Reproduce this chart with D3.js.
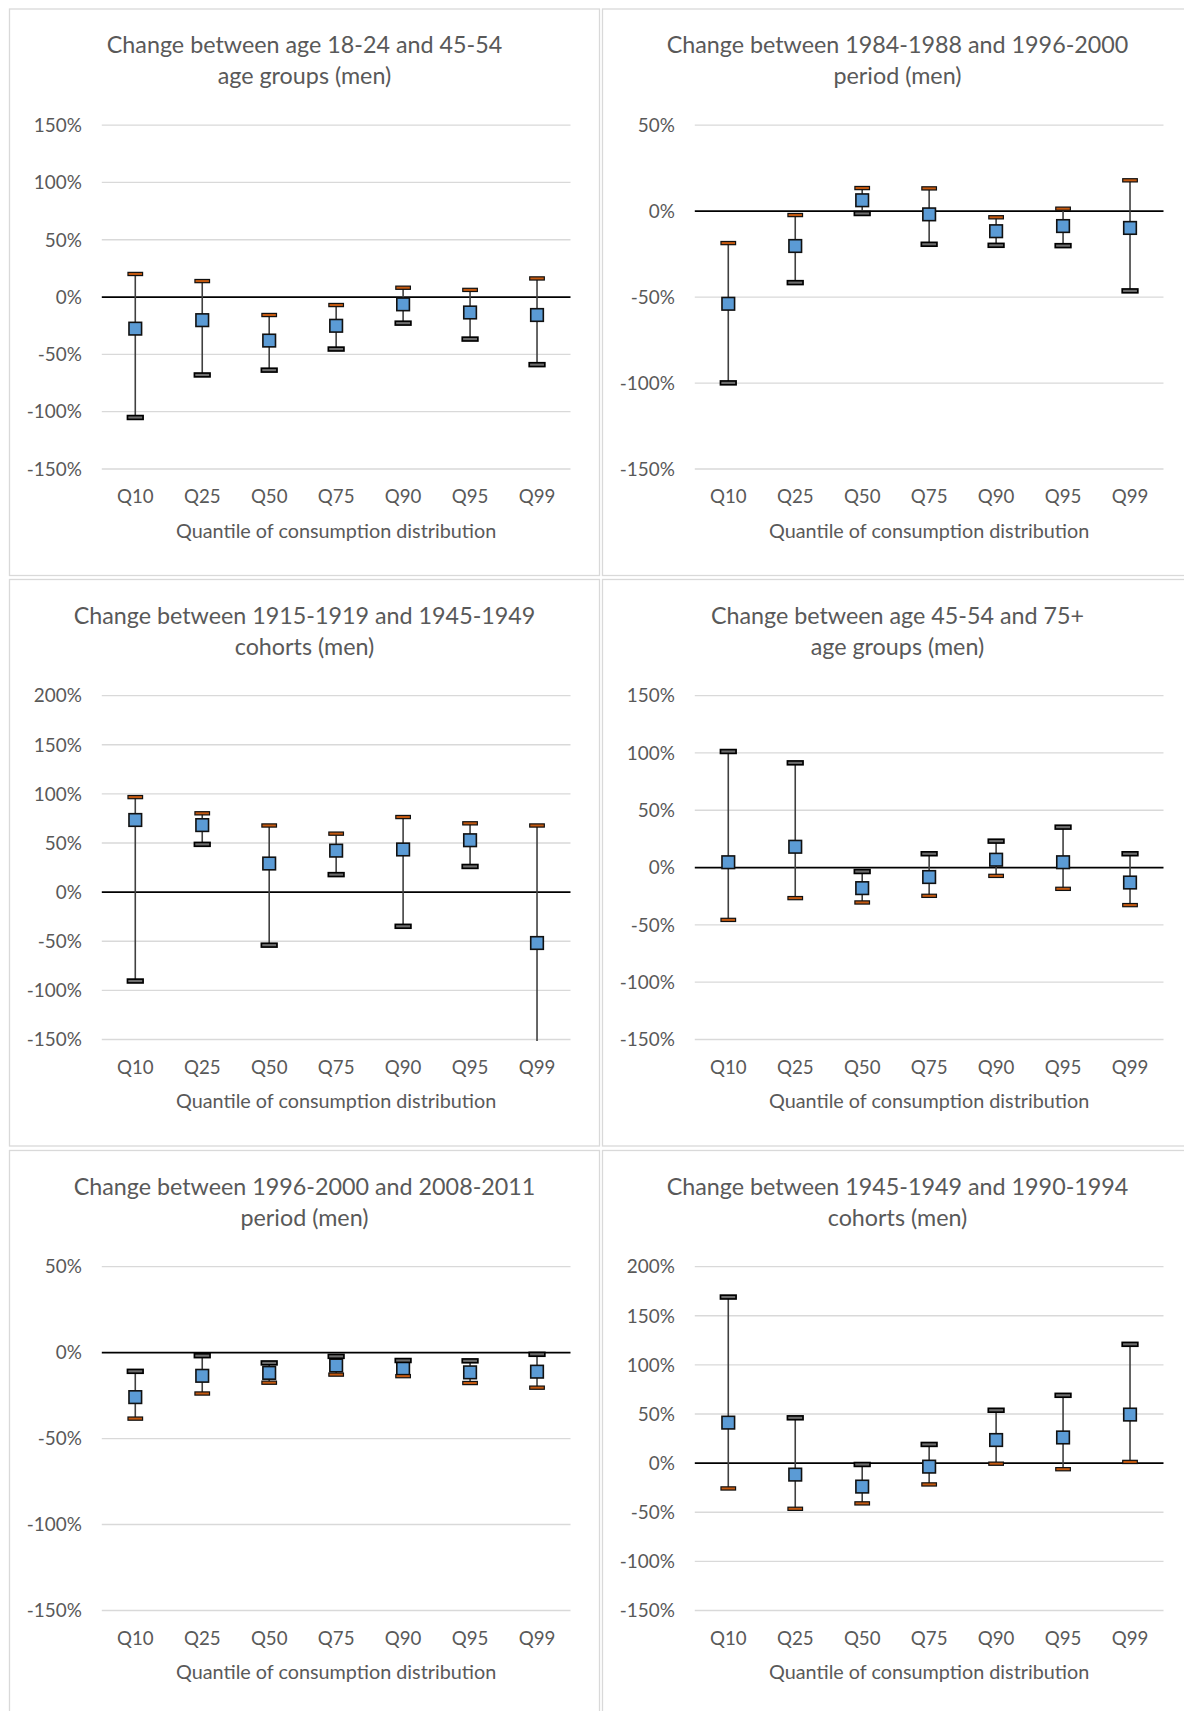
<!DOCTYPE html>
<html>
<head>
<meta charset="utf-8">
<script src="https://cdn.jsdelivr.net/npm/d3@7"></script>
<style>
  html, body { margin: 0; padding: 0; background: #fff; }
  svg { display: block; font-family: Lato, 'Open Sans', sans-serif; }
</style>
</head>
<body>
<svg width="1184" height="1711"></svg>
<script>
'use strict';

const quantiles = ['Q10', 'Q25', 'Q50', 'Q75', 'Q90', 'Q95', 'Q99']
const axisTitle = 'Quantile of consumption distribution'

// panel 1 : age 18-24 vs 45-54
const p1Title = ['Change between age 18-24 and 45-54', 'age groups (men)']
const p1Ticks = [-150, -100, -50, 0, 50, 100, 150]
const p1Point = [-28, -20.6, -38.4, -25.5, -6.8, -13.9, -16.1]
const p1Orange = [19.7, 13.5, -16.1, -7.4, 7.7, 5.8, 15.8]
const p1Grey = [-105.5, -68.4, -64.2, -45.8, -23.2, -37.1, -59.4]

// panel 2 : period 1984-1988 vs 1996-2000
const p2Title = ['Change between 1984-1988 and 1996-2000', 'period (men)']
const p2Ticks = [-150, -100, -50, 0, 50]
const p2Point = [-54.2, -20.6, 6.0, -2.2, -12.0, -9.0, -10.1]
const p2Orange = [-18.9, -2.6, 13.1, 12.9, -3.9, 1.1, 17.6]
const p2Grey = [-100.2, -41.9, -1.7, -19.6, -20.2, -20.4, -46.7]

// panel 3 : cohorts 1915-1919 vs 1945-1949
const p3Title = ['Change between 1915-1919 and 1945-1949', 'cohorts (men)']
const p3Ticks = [-150, -100, -50, 0, 50, 100, 150, 200]
const p3Point = [72.9, 67.7, 28.6, 41.7, 42.9, 52.3, -52.3]
const p3Orange = [96.2, 79.7, 67.3, 59.0, 75.9, 69.5, 67.3]
const p3Grey = [-91, 48.1, -54.5, 17.3, -35.3, 25.6, -170]

// panel 4 : age 45-54 vs 75+
const p4Title = ['Change between age 45-54 and 75+', 'age groups (men)']
const p4Ticks = [-150, -100, -50, 0, 50, 100, 150]
const p4Point = [4.2, 17.7, -18.4, -8.7, 6.4, 4.2, -13.5]
const p4Orange = [-46.1, -27.1, -30.9, -25.1, -7.7, -19.0, -33.2]
const p4Grey = [100.8, 90.9, -3.9, 11.6, 22.6, 34.8, 11.6]

// panel 5 : period 1996-2000 vs 2008-2011
const p5Title = ['Change between 1996-2000 and 2008-2011', 'period (men)']
const p5Ticks = [-150, -100, -50, 0, 50]
const p5Point = [-26.2, -13.8, -12.1, -7.8, -9.5, -11.8, -11.4]
const p5Orange = [-38.7, -24.1, -17.8, -13.1, -14.0, -18.0, -20.7]
const p5Grey = [-11.2, -2.1, -6.3, -2.5, -4.9, -5.1, -1.3]

// panel 6 : cohorts 1945-1949 vs 1990-1994
const p6Title = ['Change between 1945-1949 and 1990-1994', 'cohorts (men)']
const p6Ticks = [-150, -100, -50, 0, 50, 100, 150, 200]
const p6Point = [40.7, -12.2, -24.4, -4.1, 23.0, 25.6, 48.9]
const p6Orange = [-26.3, -47.0, -41.5, -22.2, -1.1, -6.7, 0.7]
const p6Grey = [168.5, 45.6, -1.9, 18.5, 53.3, 68.5, 120.4]

const panels = [
  {title: p1Title, ticks: p1Ticks, point: p1Point, orange: p1Orange, grey: p1Grey},
  {title: p2Title, ticks: p2Ticks, point: p2Point, orange: p2Orange, grey: p2Grey},
  {title: p3Title, ticks: p3Ticks, point: p3Point, orange: p3Orange, grey: p3Grey},
  {title: p4Title, ticks: p4Ticks, point: p4Point, orange: p4Orange, grey: p4Grey},
  {title: p5Title, ticks: p5Ticks, point: p5Point, orange: p5Orange, grey: p5Grey},
  {title: p6Title, ticks: p6Ticks, point: p6Point, orange: p6Orange, grey: p6Grey}
]

const svg = d3.select('svg')
const colX = [9.5, 602.5]
const rowY = [9, 579.5, 1150.5]
const panelW = 590
const panelH = 566.5
const margin = {top: 115.6, right: 29, bottom: 107, left: 92.3}
const plotW = panelW - margin.left - margin.right
const plotH = panelH - margin.top - margin.bottom
const textColor = '#595959'

const x = d3.scaleBand().domain(quantiles).range([0, plotW])

panels.forEach((p, i) => {
  const px = colX[i % 2]
  const py = rowY[Math.floor(i / 2)]
  const panel = svg.append('g').attr('transform', 'translate(' + px + ',' + py + ')')

  panel.append('rect')
    .attr('width', panelW).attr('height', panelH)
    .attr('fill', '#fff').attr('stroke', '#d9d9d9').attr('stroke-width', 1.3)

  const title = panel.append('text')
    .attr('text-anchor', 'middle')
    .attr('fill', textColor)
    .style('font-size', '23.3px')
  p.title.forEach((line, k) => {
    title.append('tspan').attr('x', panelW / 2).attr('y', 44.3 + k * 30.8).text(line)
  })

  const y = d3.scaleLinear().domain(d3.extent(p.ticks)).range([plotH, 0])
  const g = panel.append('g').attr('transform', 'translate(' + margin.left + ',' + margin.top + ')')

  const yAxis = g.append('g')
    .call(d3.axisLeft(y).tickValues(p.ticks).tickSize(-plotW).tickPadding(20).tickFormat((d) => d + '%'))
  yAxis.select('.domain').remove()
  yAxis.selectAll('.tick line').attr('stroke', '#d9d9d9').attr('stroke-width', 1.3)
  yAxis.selectAll('.tick text').attr('fill', textColor).style('font-size', '18.9px').attr('dy', '0.36em')
  yAxis.selectAll('.tick').filter((d) => d === 0).select('line').attr('stroke', '#000').attr('stroke-width', 1.7)
  yAxis.attr('font-family', null)

  const xAxis = g.append('g')
    .attr('transform', 'translate(0,' + plotH + ')')
    .call(d3.axisBottom(x).tickSize(0).tickPadding(28))
  xAxis.select('.domain').remove()
  xAxis.selectAll('.tick text').attr('fill', textColor).style('font-size', '18.7px').attr('dy', '0.36em')
  xAxis.attr('font-family', null)

  g.append('text')
    .attr('x', plotW / 2).attr('y', plotH + 62.3 + 7)
    .attr('text-anchor', 'middle')
    .attr('fill', textColor)
    .style('font-size', '19.8px')
    .text(axisTitle)

  // clip marks to plot area (Excel lets them run a hair past the frame)
  const clipId = 'clip' + i
  g.append('clipPath').attr('id', clipId)
    .append('rect').attr('x', -5).attr('y', -3).attr('width', plotW + 10).attr('height', plotH + 5)

  const marks = g.append('g').attr('clip-path', 'url(#' + clipId + ')')
  const rows = quantiles.map((q, k) => ({q: q, point: p.point[k], orange: p.orange[k], grey: p.grey[k]}))
  const cx = (d) => x(d.q) + x.bandwidth() / 2

  marks.selectAll('line.hilo').data(rows).enter().append('line')
    .attr('class', 'hilo')
    .attr('x1', cx).attr('x2', cx)
    .attr('y1', (d) => y(Math.max(d.orange, d.grey)))
    .attr('y2', (d) => y(Math.min(d.orange, d.grey)))
    .attr('stroke', '#404040').attr('stroke-width', 1.6)

  marks.selectAll('rect.pt').data(rows).enter().append('rect')
    .attr('class', 'pt')
    .attr('x', (d) => cx(d) - 6.3).attr('y', (d) => y(d.point) - 6.3)
    .attr('width', 12.6).attr('height', 12.6)
    .attr('fill', '#5b9bd5').attr('stroke', '#111').attr('stroke-width', 1.6)

  marks.selectAll('rect.or').data(rows).enter().append('rect')
    .attr('class', 'or')
    .attr('x', (d) => cx(d) - 7.3).attr('y', (d) => y(d.orange) - 1.6)
    .attr('width', 14.6).attr('height', 3.2)
    .attr('fill', '#c55a11').attr('stroke', '#111').attr('stroke-width', 1.2)

  marks.selectAll('rect.gr').data(rows).enter().append('rect')
    .attr('class', 'gr')
    .attr('x', (d) => cx(d) - 7.8).attr('y', (d) => y(d.grey) - 1.9)
    .attr('width', 15.6).attr('height', 3.8)
    .attr('fill', '#6e6e6e').attr('stroke', '#000').attr('stroke-width', 1.7)
})
</script>
</body>
</html>
